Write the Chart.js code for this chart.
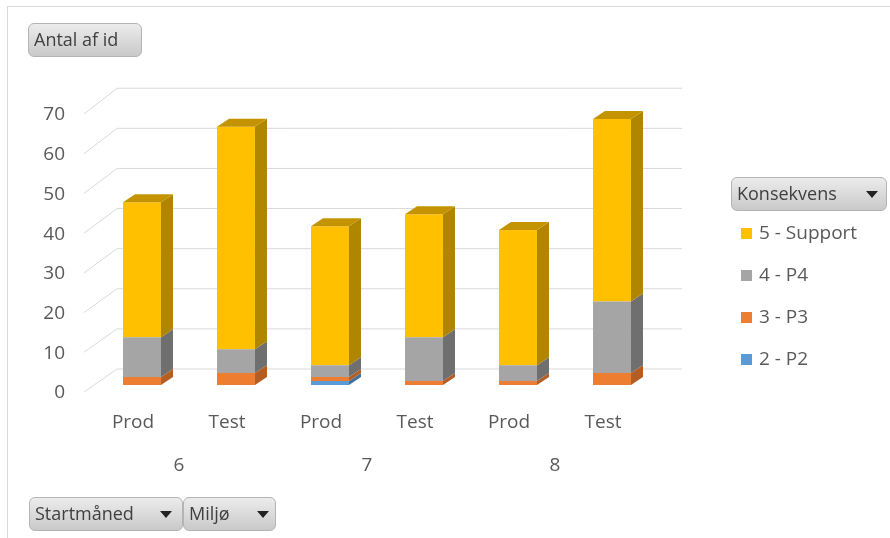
<!DOCTYPE html>
<html>
<head>
<meta charset="utf-8">
<script src="https://cdn.jsdelivr.net/npm/chart.js@4.4.1/dist/chart.umd.min.js"></script>
<style>
  html, body { margin: 0; padding: 0; background: #fff; }
  #wrap { position: relative; width: 890px; height: 538px; overflow: hidden; font-family: 'Open Sans', sans-serif; color: #404040; }
  #frame { position: absolute; left: 7px; top: 6px; width: 900px; height: 600px; border-left: 1px solid #d9d9d9; border-top: 1px solid #d9d9d9; }
  canvas { position: absolute; left: 0; top: 0; }
  .btn { position: absolute; box-sizing: border-box; border: 1px solid #b4b4b4; border-radius: 6px;
         background: linear-gradient(#ececec, #c9c9c9); font-size: 18px; line-height: 31px; padding-left: 5px; white-space: nowrap; }
  .arrow { position: absolute; top: 13px; width: 0; height: 0; border-left: 6px solid transparent; border-right: 6px solid transparent; border-top: 7px solid #222; }
  .item { position: absolute; left: 741px; font-size: 19px; color: #595959; line-height: 24px; white-space: nowrap; }
  .item span { display: inline-block; width: 11px; height: 11px; margin-right: 7px; vertical-align: 0px; }
</style>
</head>
<body>
<div id="wrap">
  <div id="frame"></div>
  <canvas id="chart" width="890" height="538"></canvas>
  <div class="btn" style="left:28px;top:23px;width:114px;height:34px;">Antal af id</div>
  <div class="btn" style="left:731px;top:177px;width:156px;height:34px;">Konsekvens<div class="arrow" style="left:134px"></div></div>
  <div class="btn" style="left:29px;top:497px;width:154px;height:34px;">Startmåned<div class="arrow" style="left:130px"></div></div>
  <div class="btn" style="left:183px;top:497px;width:93px;height:34px;">Miljø<div class="arrow" style="left:73px"></div></div>
  <div id="legend"></div>
</div>
<script>
// Kategorier (Miljø pr. Startmåned)
const miljoLabels = ['Prod', 'Test', 'Prod', 'Test', 'Prod', 'Test'];
const startmaaned = ['6', '7', '8'];

// Antal af id pr. Konsekvens
const p2 = [0, 0, 1, 0, 0, 0];
const p3 = [2, 3, 1, 1, 1, 3];
const p4 = [10, 6, 3, 11, 4, 18];
const support = [34, 56, 35, 31, 34, 46];

const yTicks = [0, 10, 20, 30, 40, 50, 60, 70];

const series = [
    { label: '2 - P2', data: p2, color: '#5B9BD5', side: '#41719C', top: '#4A83B6' },
    { label: '3 - P3', data: p3, color: '#ED7D31', side: '#B55E23', top: '#C9692A' },
    { label: '4 - P4', data: p4, color: '#A5A5A5', side: '#6F6F6F', top: '#8A8A8A' },
    { label: '5 - Support', data: support, color: '#FFC000', side: '#B08500', top: '#C49400' }
];

const DX = 12, DY = 8;

// Baggrundslinjer (3D-væg) tegnes bag søjlerne
const wallPlugin = {
    id: 'wall',
    beforeDatasetsDraw(chart) {
        const ctx = chart.ctx;
        const y = chart.scales.y;
        ctx.save();
        ctx.strokeStyle = '#d9d9d9';
        ctx.lineWidth = 1;
        yTicks.forEach(v => {
            const yf = y.getPixelForValue(v);
            const yb = 369 + (yf - y.bottom) * 1.01;
            ctx.beginPath();
            ctx.moveTo(84, yf + 7);
            ctx.lineTo(117, yb);
            ctx.lineTo(682, yb);
            ctx.stroke();
        });
        ctx.restore();
    }
};

// Side- og topflader for søjlerne
const depthPlugin = {
    id: 'depth',
    afterDatasetsDraw(chart) {
        const ctx = chart.ctx;
        const n = miljoLabels.length;
        ctx.save();
        for (let i = 0; i < n; i++) {
            let topBar = null, topDs = null;
            chart.data.datasets.forEach((ds, d) => {
                const bar = chart.getDatasetMeta(d).data[i];
                if (!ds.data[i]) return;
                const r = bar.x + bar.width / 2;
                ctx.fillStyle = series[d].side;
                ctx.beginPath();
                ctx.moveTo(r, bar.y);
                ctx.lineTo(r + DX, bar.y - DY);
                ctx.lineTo(r + DX, bar.base - DY);
                ctx.lineTo(r, bar.base);
                ctx.closePath();
                ctx.fill();
                topBar = bar;
                topDs = d;
            });
            if (topBar) {
                const l = topBar.x - topBar.width / 2;
                const r = topBar.x + topBar.width / 2;
                ctx.fillStyle = series[topDs].top;
                ctx.beginPath();
                ctx.moveTo(l, topBar.y);
                ctx.lineTo(r, topBar.y);
                ctx.lineTo(r + DX, topBar.y - DY);
                ctx.lineTo(l + DX, topBar.y - DY);
                ctx.closePath();
                ctx.fill();
            }
        }
        ctx.restore();
    }
};

const tickFont = { family: "'Open Sans', sans-serif", size: 19 };

new Chart(document.getElementById('chart'), {
    type: 'bar',
    data: {
        labels: miljoLabels,
        datasets: series.map(s => ({
            label: s.label,
            data: s.data,
            backgroundColor: s.color,
            barPercentage: 0.404,
            categoryPercentage: 1
        }))
    },
    options: {
        responsive: false,
        animation: false,
        layout: { padding: { left: 0, right: 231, top: 107, bottom: 59 } },
        plugins: { legend: { display: false }, tooltip: { enabled: false } },
        scales: {
            x: {
                stacked: true,
                grid: { display: false, drawTicks: false },
                border: { display: false },
                ticks: { font: tickFont, color: '#595959', padding: 26, labelOffset: -9, maxRotation: 0 },
                afterFit(scale) { scale.height = 48; }
            },
            x2: {
                type: 'category',
                labels: startmaaned,
                position: 'bottom',
                offset: true,
                weight: 1,
                grid: { display: false, drawTicks: false },
                border: { display: false },
                ticks: { font: tickFont, color: '#595959', padding: 21, labelOffset: -10 },
                afterFit(scale) { scale.height = 46; }
            },
            y: {
                stacked: true,
                min: 0,
                max: 70,
                grid: { display: false, drawTicks: false },
                border: { display: false },
                ticks: { stepSize: 10, font: tickFont, color: '#595959', padding: 30, labelOffset: 8 },
                afterFit(scale) { scale.width = 95; }
            }
        }
    },
    plugins: [wallPlugin, depthPlugin]
});

// Forklaring (omvendt rækkefølge som i Excel)
const legend = document.getElementById('legend');
const legendTop = [220, 262, 304, 346];
series.slice().reverse().forEach((s, k) => {
    const div = document.createElement('div');
    div.className = 'item';
    div.style.top = legendTop[k] + 'px';
    div.innerHTML = '<span style="background:' + s.color + '"></span>' + s.label;
    legend.appendChild(div);
});
</script>
</body>
</html>
